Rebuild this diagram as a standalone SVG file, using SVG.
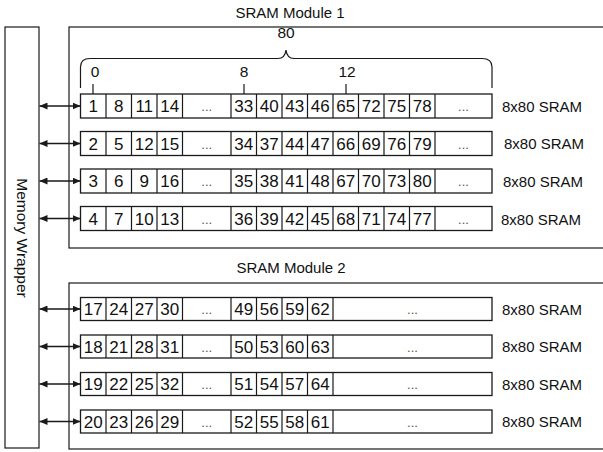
<svg xmlns="http://www.w3.org/2000/svg" width="603" height="452" viewBox="0 0 603 452">
<style>
  text { font-family: "Liberation Sans", Arial, sans-serif; fill: #111; }
  .box { fill: none; stroke: #1a1a1a; stroke-width: 1.2; }
  .cell { fill: #fff; stroke: #1a1a1a; stroke-width: 1.3; }
  .div { fill: none; stroke: #1a1a1a; stroke-width: 1.2; }
  .c { font-size: 17px; text-anchor: middle; }
  .d { font-size: 13px; text-anchor: middle; fill: #555; }
  .lbl { font-size: 15px; }
  .t { font-size: 15.5px; text-anchor: middle; }
  .arr { stroke: #1a1a1a; stroke-width: 1.4; marker-start: url(#ah); marker-end: url(#ah); }
</style>
<defs>
  <marker id="ah" markerUnits="userSpaceOnUse" markerWidth="8" markerHeight="7" refX="8" refY="3.5" orient="auto-start-reverse">
    <path d="M0,0 L8,3.5 L0,7 z" fill="#1a1a1a"/>
  </marker>
</defs>
<rect width="603" height="452" fill="#fff"/>

<g id="memory-wrapper">
  <rect class="box" x="5" y="27" width="34" height="421"/>
  <text class="t" transform="translate(22,238) rotate(90)" dominant-baseline="central">Memory Wrapper</text>
</g>

<g id="sram-module-1">
  <text class="lbl" x="290" y="18" text-anchor="middle">SRAM Module 1</text>
  <rect class="box" x="69" y="27" width="560" height="221"/>
  <path class="div" d="M80.5,88 V67 Q80.5,58.5 90,58.5 H278 Q285,58.5 286,50 Q287,58.5 294,58.5 H482 Q492,58.5 492,67 V88"/>
  <text class="t" x="286" y="38">80</text>
  <text class="t" x="95" y="77">0</text>
  <text class="t" x="244" y="77">8</text>
  <text class="t" x="347" y="77">12</text>
  <path class="div" d="M93,84 V94 M244,84 V94 M346,84 V94"/>
</g>

<g id="m1-row1" transform="translate(0,94)">
  <rect class="cell" x="80.5" y="0" width="411.5" height="24"/>
  <path class="div" d="M106,0V24M131.5,0V24M157,0V24M182.5,0V24M231,0V24M256.5,0V24M282,0V24M307.5,0V24M333,0V24M358.5,0V24M384,0V24M409.5,0V24M435,0V24"/>
  <text class="c" y="18.2"><tspan x="93.25">1</tspan><tspan x="118.75">8</tspan><tspan x="144.25">11</tspan><tspan x="169.75">14</tspan><tspan x="243.75">33</tspan><tspan x="269.25">40</tspan><tspan x="294.75">43</tspan><tspan x="320.25">46</tspan><tspan x="345.75">65</tspan><tspan x="371.25">72</tspan><tspan x="396.75">75</tspan><tspan x="422.25">78</tspan></text>
  <text class="d" y="17"><tspan x="206.75">...</tspan><tspan x="463.5">...</tspan></text>
  <text class="lbl" x="502" y="17.5">8x80 SRAM</text>
</g>
<g id="m1-row2" transform="translate(0,131.5)">
  <rect class="cell" x="80.5" y="0" width="411.5" height="24"/>
  <path class="div" d="M106,0V24M131.5,0V24M157,0V24M182.5,0V24M231,0V24M256.5,0V24M282,0V24M307.5,0V24M333,0V24M358.5,0V24M384,0V24M409.5,0V24M435,0V24"/>
  <text class="c" y="18.2"><tspan x="93.25">2</tspan><tspan x="118.75">5</tspan><tspan x="144.25">12</tspan><tspan x="169.75">15</tspan><tspan x="243.75">34</tspan><tspan x="269.25">37</tspan><tspan x="294.75">44</tspan><tspan x="320.25">47</tspan><tspan x="345.75">66</tspan><tspan x="371.25">69</tspan><tspan x="396.75">76</tspan><tspan x="422.25">79</tspan></text>
  <text class="d" y="17"><tspan x="206.75">...</tspan><tspan x="463.5">...</tspan></text>
  <text class="lbl" x="504" y="17.5">8x80 SRAM</text>
</g>
<g id="m1-row3" transform="translate(0,169)">
  <rect class="cell" x="80.5" y="0" width="411.5" height="24"/>
  <path class="div" d="M106,0V24M131.5,0V24M157,0V24M182.5,0V24M231,0V24M256.5,0V24M282,0V24M307.5,0V24M333,0V24M358.5,0V24M384,0V24M409.5,0V24M435,0V24"/>
  <text class="c" y="18.2"><tspan x="93.25">3</tspan><tspan x="118.75">6</tspan><tspan x="144.25">9</tspan><tspan x="169.75">16</tspan><tspan x="243.75">35</tspan><tspan x="269.25">38</tspan><tspan x="294.75">41</tspan><tspan x="320.25">48</tspan><tspan x="345.75">67</tspan><tspan x="371.25">70</tspan><tspan x="396.75">73</tspan><tspan x="422.25">80</tspan></text>
  <text class="d" y="17"><tspan x="206.75">...</tspan><tspan x="463.5">...</tspan></text>
  <text class="lbl" x="503" y="17.5">8x80 SRAM</text>
</g>
<g id="m1-row4" transform="translate(0,206.5)">
  <rect class="cell" x="80.5" y="0" width="411.5" height="24"/>
  <path class="div" d="M106,0V24M131.5,0V24M157,0V24M182.5,0V24M231,0V24M256.5,0V24M282,0V24M307.5,0V24M333,0V24M358.5,0V24M384,0V24M409.5,0V24M435,0V24"/>
  <text class="c" y="18.2"><tspan x="93.25">4</tspan><tspan x="118.75">7</tspan><tspan x="144.25">10</tspan><tspan x="169.75">13</tspan><tspan x="243.75">36</tspan><tspan x="269.25">39</tspan><tspan x="294.75">42</tspan><tspan x="320.25">45</tspan><tspan x="345.75">68</tspan><tspan x="371.25">71</tspan><tspan x="396.75">74</tspan><tspan x="422.25">77</tspan></text>
  <text class="d" y="17"><tspan x="206.75">...</tspan><tspan x="463.5">...</tspan></text>
  <text class="lbl" x="501" y="18">8x80 SRAM</text>
</g>

<g id="sram-module-2">
  <text class="lbl" x="291" y="273" text-anchor="middle">SRAM Module 2</text>
  <rect class="box" x="69" y="283" width="560" height="166"/>
</g>

<g id="m2-row1" transform="translate(0,297.5)">
  <rect class="cell" x="80.5" y="0" width="411.5" height="23"/>
  <path class="div" d="M106,0V23M131.5,0V23M157,0V23M182.5,0V23M231,0V23M256.5,0V23M282,0V23M307.5,0V23M333,0V23"/>
  <text class="c" y="17.6"><tspan x="93.25">17</tspan><tspan x="118.75">24</tspan><tspan x="144.25">27</tspan><tspan x="169.75">30</tspan><tspan x="243.75">49</tspan><tspan x="269.25">56</tspan><tspan x="294.75">59</tspan><tspan x="320.25">62</tspan></text>
  <text class="d" y="16.5"><tspan x="206.75">...</tspan><tspan x="412.5">...</tspan></text>
  <text class="lbl" x="502" y="17">8x80 SRAM</text>
</g>
<g id="m2-row2" transform="translate(0,335)">
  <rect class="cell" x="80.5" y="0" width="411.5" height="23"/>
  <path class="div" d="M106,0V23M131.5,0V23M157,0V23M182.5,0V23M231,0V23M256.5,0V23M282,0V23M307.5,0V23M333,0V23"/>
  <text class="c" y="17.6"><tspan x="93.25">18</tspan><tspan x="118.75">21</tspan><tspan x="144.25">28</tspan><tspan x="169.75">31</tspan><tspan x="243.75">50</tspan><tspan x="269.25">53</tspan><tspan x="294.75">60</tspan><tspan x="320.25">63</tspan></text>
  <text class="d" y="16.5"><tspan x="206.75">...</tspan><tspan x="412.5">...</tspan></text>
  <text class="lbl" x="502" y="17">8x80 SRAM</text>
</g>
<g id="m2-row3" transform="translate(0,372.5)">
  <rect class="cell" x="80.5" y="0" width="411.5" height="23"/>
  <path class="div" d="M106,0V23M131.5,0V23M157,0V23M182.5,0V23M231,0V23M256.5,0V23M282,0V23M307.5,0V23M333,0V23"/>
  <text class="c" y="17.6"><tspan x="93.25">19</tspan><tspan x="118.75">22</tspan><tspan x="144.25">25</tspan><tspan x="169.75">32</tspan><tspan x="243.75">51</tspan><tspan x="269.25">54</tspan><tspan x="294.75">57</tspan><tspan x="320.25">64</tspan></text>
  <text class="d" y="16.5"><tspan x="206.75">...</tspan><tspan x="412.5">...</tspan></text>
  <text class="lbl" x="502" y="17">8x80 SRAM</text>
</g>
<g id="m2-row4" transform="translate(0,410)">
  <rect class="cell" x="80.5" y="0" width="411.5" height="23"/>
  <path class="div" d="M106,0V23M131.5,0V23M157,0V23M182.5,0V23M231,0V23M256.5,0V23M282,0V23M307.5,0V23M333,0V23"/>
  <text class="c" y="17.6"><tspan x="93.25">20</tspan><tspan x="118.75">23</tspan><tspan x="144.25">26</tspan><tspan x="169.75">29</tspan><tspan x="243.75">52</tspan><tspan x="269.25">55</tspan><tspan x="294.75">58</tspan><tspan x="320.25">61</tspan></text>
  <text class="d" y="16.5"><tspan x="206.75">...</tspan><tspan x="412.5">...</tspan></text>
  <text class="lbl" x="502" y="17">8x80 SRAM</text>
</g>

<g id="connectors">
  <line class="arr" x1="39.5" y1="106" x2="80.5" y2="106"/>
  <line class="arr" x1="39.5" y1="143.5" x2="80.5" y2="143.5"/>
  <line class="arr" x1="39.5" y1="181" x2="80.5" y2="181"/>
  <line class="arr" x1="39.5" y1="218.5" x2="80.5" y2="218.5"/>
  <line class="arr" x1="39.5" y1="309" x2="80.5" y2="309"/>
  <line class="arr" x1="39.5" y1="346.5" x2="80.5" y2="346.5"/>
  <line class="arr" x1="39.5" y1="384" x2="80.5" y2="384"/>
  <line class="arr" x1="39.5" y1="421.5" x2="80.5" y2="421.5"/>
</g>
</svg>
